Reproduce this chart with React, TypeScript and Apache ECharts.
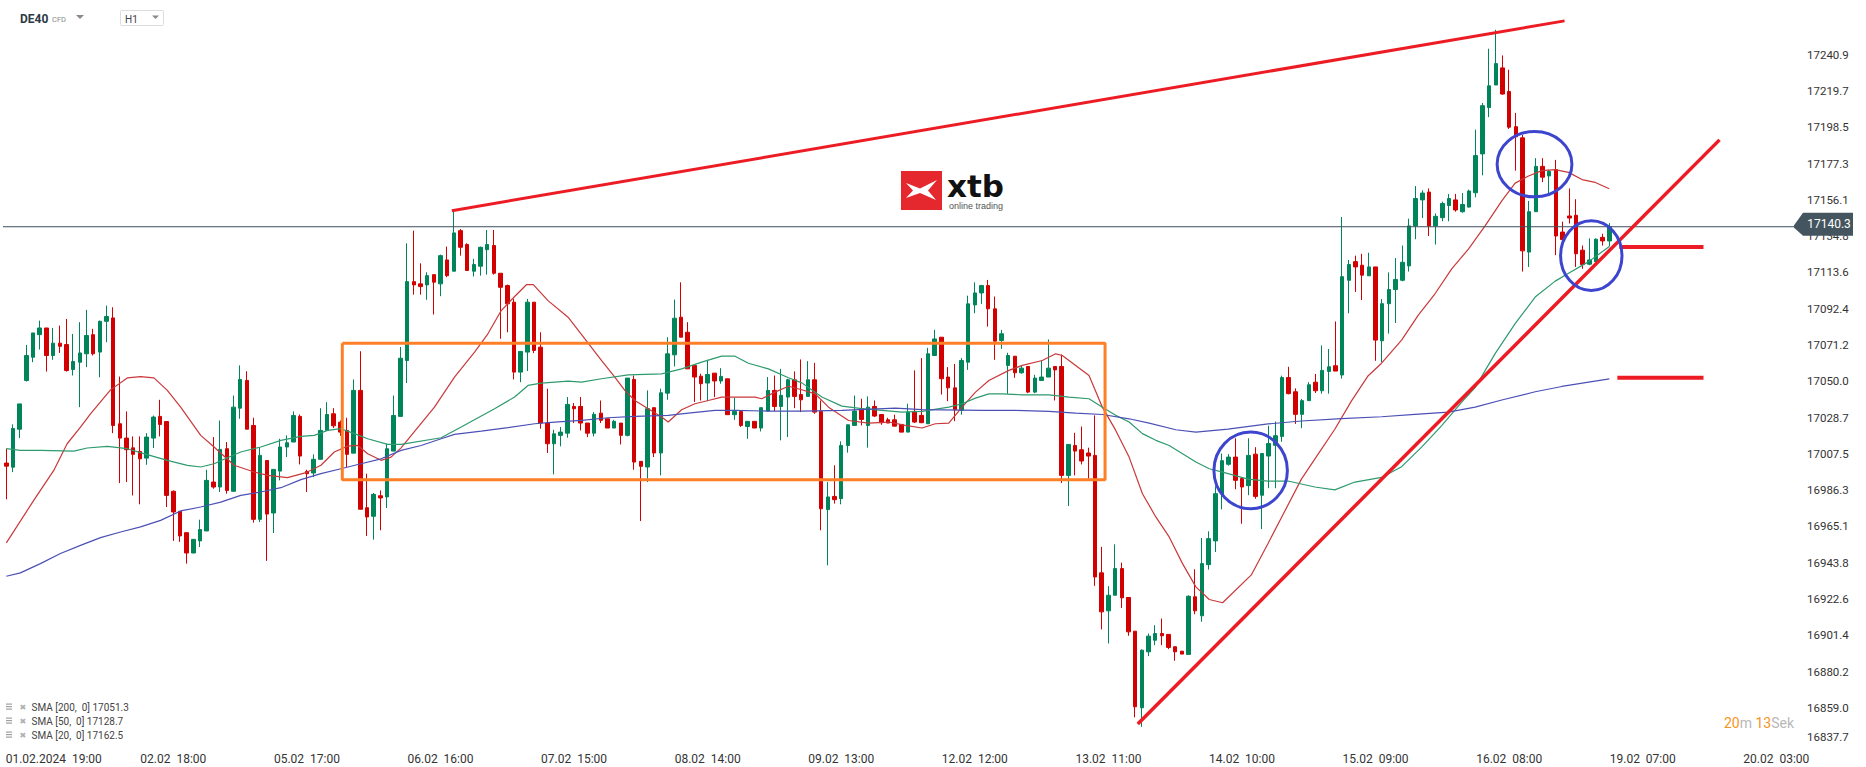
import React, { useEffect, useRef } from 'react';
import * as echarts from 'echarts';

// ---------- axes ----------
const SLOT_COUNT = 268;
const categories = Array.from({ length: SLOT_COUNT }, (_, i) => `bar${i}`);

const xTickIndex = [5, 25, 45, 65, 85, 105, 125, 145, 165, 185, 205, 225, 245, 265];
const xTickLabels = [
  '01.02.2024  19:00', '02.02  18:00', '05.02  17:00', '06.02  16:00', '07.02  15:00',
  '08.02  14:00', '09.02  13:00', '12.02  12:00', '13.02  11:00', '14.02  10:00',
  '15.02  09:00', '16.02  08:00', '19.02  07:00', '20.02  03:00',
];

const yTickLabels = [
  '16837.7', '16859.0', '16880.2', '16901.4', '16922.6', '16943.8', '16965.1', '16986.3',
  '17007.5', '17028.7', '17050.0', '17071.2', '17092.4', '17113.6', '17134.8', '17156.1',
  '17177.3', '17198.5', '17219.7', '17240.9',
];
const Y_MIN = 16837.7;
const Y_MAX = 17272.9;
const Y_INTERVAL = (17240.9 - 16837.7) / 19;

// ---------- candles: [open, close, low, high] ----------
const candles: number[][] = [
  [17002.1, 17000.3, 16980.9, 17010.5], [16999.7, 17022.3, 16996.8, 17024.7], [17021.9, 17036.7, 17016.7, 17036.7],
  [17050.4, 17065.0, 17049.8, 17071.2], [17064.0, 17078.2, 17061.1, 17078.2], [17077.2, 17081.1, 17068.5, 17085.4],
  [17081.1, 17065.0, 17055.6, 17081.1], [17065.0, 17072.2, 17062.5, 17081.1], [17072.2, 17070.4, 17066.5, 17082.5],
  [17071.4, 17056.2, 17055.6, 17086.4], [17056.8, 17061.5, 17053.3, 17077.6], [17061.1, 17066.5, 17034.8, 17084.5],
  [17066.0, 17076.7, 17058.2, 17091.7], [17077.2, 17066.0, 17065.0, 17080.6], [17067.0, 17085.0, 17052.3, 17085.4],
  [17085.0, 17087.8, 17072.8, 17094.2], [17087.0, 17024.1, 17019.6, 17093.2], [17025.1, 17016.7, 16990.4, 17052.7],
  [17016.7, 17009.9, 16991.0, 17032.3], [17011.0, 17007.2, 16983.2, 17017.7], [17008.9, 17004.6, 16978.0, 17017.7],
  [17005.0, 17017.3, 17001.1, 17019.6], [17016.7, 17029.0, 17010.9, 17029.9], [17029.4, 17024.7, 17017.7, 17039.1],
  [17026.4, 16983.2, 16976.4, 17026.4], [16985.6, 16973.5, 16956.6, 16986.1], [16973.9, 16959.5, 16956.0, 16973.9],
  [16961.4, 16949.5, 16943.3, 16961.4], [16949.5, 16957.5, 16949.5, 16957.5], [16956.6, 16963.2, 16953.0, 16969.0],
  [16962.4, 16992.0, 16962.4, 16998.2], [16991.0, 16988.1, 16987.1, 17017.3], [16988.1, 17010.1, 16985.2, 17027.0],
  [17010.5, 16986.1, 16984.2, 17014.4], [16985.6, 17034.8, 16985.6, 17041.6], [17034.2, 17051.0, 17028.0, 17059.2],
  [17050.4, 17021.9, 17021.9, 17055.8], [17024.1, 16969.2, 16967.3, 17028.6], [16969.2, 17006.6, 16967.6, 17011.5],
  [17003.6, 16972.3, 16944.9, 17003.6], [16972.9, 16998.4, 16961.2, 16998.4], [16997.4, 17011.5, 16992.0, 17016.3],
  [17011.5, 17014.0, 17005.6, 17018.3], [17014.4, 17029.9, 17014.4, 17032.3], [17029.4, 17006.2, 17001.3, 17030.5],
  [16997.2, 16995.9, 16985.2, 16998.2], [16996.3, 17004.3, 16993.9, 17007.2], [17004.3, 17021.2, 17004.3, 17034.2],
  [17021.2, 17030.5, 17021.2, 17037.7], [17030.9, 17023.9, 17022.6, 17034.2], [17026.0, 17020.2, 17018.0, 17027.0],
  [17021.2, 17007.2, 16999.8, 17028.6], [17007.9, 17044.6, 17007.9, 17051.0], [17044.6, 16975.1, 16975.1, 17067.5],
  [16976.0, 16970.6, 16959.5, 16995.9], [16971.0, 16983.8, 16957.3, 16984.6], [16983.0, 16981.7, 16962.8, 16986.1],
  [16982.3, 17010.5, 16975.8, 17013.4], [17009.1, 17029.9, 17009.1, 17041.6], [17029.4, 17063.4, 17029.4, 17070.0],
  [17062.1, 17108.2, 17048.9, 17130.6], [17108.2, 17106.3, 17100.6, 17138.0], [17106.9, 17105.3, 17100.6, 17118.9],
  [17106.3, 17111.7, 17097.6, 17113.7], [17112.3, 17107.9, 17089.0, 17112.3], [17106.9, 17123.4, 17099.7, 17124.0],
  [17120.9, 17111.7, 17110.8, 17128.7], [17114.3, 17136.7, 17114.3, 17149.7], [17138.0, 17128.3, 17123.4, 17139.0],
  [17129.9, 17114.7, 17114.7, 17130.6], [17114.3, 17118.2, 17111.2, 17121.5], [17117.2, 17128.3, 17111.7, 17128.7],
  [17126.9, 17129.9, 17112.3, 17138.4], [17129.3, 17113.1, 17112.3, 17138.4], [17113.1, 17104.9, 17074.8, 17113.1],
  [17105.9, 17095.2, 17078.6, 17106.5], [17096.2, 17055.3, 17051.0, 17098.1], [17055.3, 17067.4, 17049.4, 17067.4],
  [17067.0, 17096.2, 17055.9, 17098.1], [17096.2, 17068.0, 17066.4, 17096.2], [17069.9, 17025.5, 17022.2, 17078.6],
  [17025.5, 17013.4, 17008.0, 17045.6], [17013.4, 17019.2, 16995.5, 17021.6], [17018.3, 17020.2, 17011.9, 17023.2],
  [17019.6, 17036.4, 17016.9, 17040.7], [17035.2, 17033.9, 17025.5, 17037.2], [17035.2, 17025.5, 17021.2, 17040.7],
  [17025.5, 17019.6, 17017.3, 17025.5], [17019.6, 17030.6, 17017.7, 17031.9], [17031.3, 17027.1, 17025.5, 17038.7],
  [17028.0, 17022.6, 17022.6, 17028.0], [17022.6, 17026.5, 17022.6, 17027.4], [17025.5, 17018.3, 17013.0, 17025.5],
  [17018.3, 17051.8, 17017.7, 17051.8], [17051.0, 17002.7, 16998.2, 17053.3], [17003.1, 17000.2, 16968.2, 17003.1],
  [16999.8, 17033.9, 16991.0, 17044.6], [17034.5, 17008.0, 17005.6, 17034.5], [17008.0, 17043.2, 16994.9, 17045.6],
  [17043.0, 17066.0, 17039.1, 17075.7], [17065.4, 17086.8, 17058.6, 17097.7], [17087.4, 17075.7, 17075.7, 17107.8],
  [17078.6, 17057.2, 17057.2, 17084.5], [17059.2, 17052.4, 17037.8, 17059.2], [17052.9, 17048.5, 17038.7, 17054.3],
  [17048.9, 17053.9, 17038.3, 17062.5], [17054.7, 17050.1, 17040.7, 17054.7], [17050.1, 17052.8, 17048.5, 17057.6],
  [17051.4, 17030.4, 17030.4, 17051.4], [17030.4, 17032.3, 17027.4, 17040.3], [17032.3, 17024.1, 17023.2, 17032.3],
  [17023.5, 17026.5, 17016.3, 17026.5], [17026.5, 17022.6, 17022.6, 17026.5], [17022.6, 17034.5, 17020.6, 17034.5],
  [17032.5, 17044.6, 17032.5, 17052.4], [17044.6, 17035.2, 17032.5, 17053.3], [17035.2, 17041.7, 17015.4, 17057.2],
  [17040.7, 17050.8, 17017.3, 17051.4], [17050.8, 17041.1, 17034.2, 17055.7], [17042.2, 17039.1, 17031.9, 17062.7],
  [17041.1, 17050.8, 17041.1, 17061.7], [17050.8, 17031.9, 17030.9, 17060.7], [17032.3, 16975.4, 16962.8, 17038.7],
  [16974.9, 16982.3, 16942.3, 16991.0], [16982.6, 16980.7, 16978.4, 17000.8], [16981.3, 17012.4, 16978.0, 17014.8],
  [17012.4, 17024.5, 17008.2, 17024.5], [17024.1, 17032.5, 17024.1, 17041.6], [17033.9, 17027.6, 17024.1, 17039.7],
  [17024.1, 17034.8, 17011.1, 17041.1], [17035.2, 17029.6, 17029.0, 17038.7], [17030.5, 17025.7, 17024.5, 17030.5],
  [17027.4, 17025.5, 17025.5, 17028.6], [17027.4, 17023.7, 17023.7, 17030.4], [17024.7, 17020.2, 17020.2, 17024.7],
  [17020.2, 17031.9, 17020.2, 17036.8], [17032.3, 17026.1, 17025.5, 17056.3], [17030.0, 17025.7, 17025.5, 17063.5],
  [17025.1, 17066.0, 17025.1, 17069.5], [17065.0, 17074.7, 17065.0, 17080.0], [17075.7, 17051.4, 17042.2, 17075.7],
  [17052.4, 17046.1, 17038.3, 17058.2], [17046.1, 17033.3, 17026.6, 17060.1], [17032.9, 17062.1, 17030.4, 17063.5],
  [17061.1, 17095.2, 17056.6, 17100.0], [17094.6, 17101.6, 17089.7, 17107.8], [17101.6, 17105.9, 17095.2, 17106.3],
  [17105.9, 17092.3, 17081.9, 17109.2], [17092.3, 17073.4, 17062.5, 17099.5], [17073.8, 17077.7, 17068.9, 17080.0],
  [17059.2, 17065.0, 17042.6, 17066.6], [17064.6, 17054.9, 17052.0, 17064.6], [17054.9, 17057.6, 17054.3, 17059.2],
  [17058.6, 17043.6, 17043.0, 17058.6], [17043.6, 17051.8, 17043.0, 17053.7], [17050.4, 17052.4, 17050.4, 17062.1],
  [17052.4, 17057.6, 17052.4, 17074.4], [17058.6, 17056.6, 17038.7, 17058.6], [17058.6, 16994.9, 16990.4, 17065.6],
  [16994.9, 17013.0, 16977.0, 17013.0], [17012.4, 17009.1, 16994.9, 17019.8], [17009.9, 17003.3, 17001.3, 17023.5],
  [17008.0, 17006.2, 16993.0, 17011.1], [17006.6, 16935.5, 16930.3, 17030.0], [16937.9, 16915.1, 16904.8, 16953.1],
  [16915.7, 16924.8, 16896.6, 16930.1], [16924.8, 16940.4, 16924.8, 16954.6], [16940.4, 16923.3, 16917.4, 16943.9],
  [16923.5, 16903.4, 16901.1, 16923.5], [16903.8, 16859.6, 16853.4, 16903.8], [16859.0, 16892.7, 16847.9, 16893.1],
  [16891.7, 16900.9, 16889.2, 16902.4], [16898.5, 16902.4, 16895.6, 16907.3], [16902.4, 16901.1, 16895.6, 16911.2],
  [16901.9, 16894.3, 16893.3, 16901.9], [16894.7, 16891.7, 16886.5, 16894.7], [16892.1, 16890.4, 16890.4, 16892.1],
  [16890.2, 16924.2, 16890.2, 16924.8], [16923.9, 16915.7, 16913.7, 16940.0], [16912.8, 16943.3, 16909.3, 16958.3],
  [16942.7, 16957.9, 16939.8, 16962.2], [16956.6, 16984.2, 16950.1, 16988.5], [16984.0, 17003.5, 16975.0, 17007.7],
  [17001.4, 17005.6, 17000.6, 17007.3], [17005.6, 16992.0, 16986.8, 17016.6], [16993.1, 16988.1, 16966.6, 16993.1],
  [16988.9, 17006.6, 16983.3, 17016.6], [17007.3, 16982.6, 16981.2, 17011.4], [16983.3, 17007.7, 16963.5, 17007.7],
  [17006.2, 17013.5, 16987.4, 17023.9], [17012.5, 17018.1, 16987.4, 17026.4], [17017.7, 17052.1, 17014.6, 17053.2],
  [17052.1, 17042.7, 17042.3, 17058.4], [17043.8, 17030.6, 17025.0, 17045.8], [17030.6, 17038.6, 17022.5, 17039.6],
  [17038.6, 17047.9, 17038.6, 17049.4], [17049.4, 17044.4, 17043.1, 17054.2], [17044.4, 17056.3, 17042.7, 17070.9],
  [17055.7, 17058.4, 17042.7, 17068.8], [17059.0, 17055.9, 17055.9, 17084.9], [17053.6, 17111.1, 17051.5, 17146.0],
  [17109.0, 17118.2, 17089.7, 17120.9], [17119.9, 17116.8, 17102.2, 17123.4], [17117.8, 17112.0, 17097.4, 17124.5],
  [17111.6, 17116.8, 17111.6, 17125.1], [17116.8, 17074.0, 17061.9, 17116.8], [17073.6, 17095.3, 17061.1, 17098.0],
  [17095.3, 17103.6, 17077.8, 17113.6], [17103.6, 17109.5, 17084.0, 17122.0], [17109.0, 17119.5, 17108.4, 17129.3],
  [17117.4, 17140.8, 17114.1, 17145.0], [17140.8, 17156.8, 17133.0, 17164.1], [17156.0, 17160.0, 17145.4, 17161.6],
  [17160.6, 17140.8, 17134.9, 17162.7], [17140.8, 17146.4, 17129.9, 17148.1], [17145.6, 17153.9, 17143.5, 17155.0],
  [17152.7, 17156.8, 17143.5, 17159.5], [17156.0, 17150.1, 17149.1, 17159.5], [17149.1, 17153.3, 17148.5, 17160.0],
  [17151.8, 17161.2, 17151.6, 17162.0], [17160.2, 17181.9, 17157.5, 17197.1], [17182.9, 17211.1, 17170.4, 17212.7],
  [17210.0, 17222.7, 17204.4, 17244.4], [17223.2, 17235.7, 17223.2, 17255.5], [17233.2, 17217.9, 17217.5, 17240.5],
  [17219.4, 17198.5, 17197.5, 17232.1], [17198.8, 17192.9, 17173.1, 17206.9], [17192.3, 17126.2, 17114.1, 17194.0],
  [17125.5, 17149.1, 17116.8, 17155.4], [17149.1, 17175.6, 17149.1, 17180.4], [17175.6, 17169.3, 17166.4, 17180.4],
  [17170.0, 17172.7, 17159.5, 17173.7], [17173.7, 17134.9, 17123.7, 17179.4], [17137.2, 17132.8, 17132.0, 17143.3],
  [17146.6, 17145.4, 17142.2, 17162.7], [17147.0, 17124.5, 17116.8, 17156.4], [17126.6, 17118.2, 17115.7, 17129.3],
  [17118.4, 17120.9, 17117.8, 17133.5], [17119.9, 17133.0, 17119.5, 17133.5], [17134.1, 17132.0, 17129.3, 17136.2],
  [17132.0, 17140.3, 17128.7, 17142.4],
];

// ---------- moving averages: [bar position, value] ----------
const sma20: number[][] = [
  [0, 16955.4], [4.1, 16980.3], [7.1, 16997.8], [9.1, 17013.4], [11.1, 17023.1], [12.6, 17030.9], [15.6, 17044.9],
  [18.1, 17051.9], [20.1, 17052.7], [22.1, 17051.9], [24.1, 17044.6], [26.1, 17034.8], [29.1, 17018.3], [31.1, 17011.5],
  [34.1, 17000.8], [37.1, 16996.9], [39.1, 16994.9], [42.1, 16993.6], [45, 16996.7], [47.1, 17000.8], [49.1, 17008.6],
  [51.1, 17012.0], [52.6, 17012.4], [54.1, 17007.6], [56.1, 17003.7], [57.6, 17005.6], [59.1, 17011.0], [64.1, 17034.8],
  [67.1, 17052.4], [70.1, 17067.0], [72.1, 17077.7], [74.1, 17091.3], [76.1, 17099.5], [77.9, 17106.5], [78.9, 17106.5],
  [81.1, 17097.1], [84.1, 17087.4], [86.1, 17077.3], [89.1, 17062.1], [91.1, 17052.4], [92.6, 17044.6], [94.1, 17038.7],
  [96.1, 17033.9], [98.1, 17029.0], [99.1, 17026.1], [101.1, 17033.3], [103.1, 17036.8], [105.1, 17038.7], [107.1, 17040.7],
  [109.1, 17040.7], [112.1, 17040.7], [113.1, 17039.7], [115.1, 17043.6], [117.1, 17047.0], [119.1, 17045.0], [121.1, 17042.6],
  [123.1, 17034.8], [126.1, 17027.0], [129.1, 17025.5], [132.1, 17026.1], [134.6, 17024.1], [137.1, 17022.6], [139.1, 17025.1],
  [141.1, 17025.5], [143.1, 17034.8], [145.1, 17043.6], [147.1, 17050.4], [150.1, 17056.3], [152.1, 17059.2], [155.1, 17062.1],
  [157.1, 17066.0], [158.1, 17065.0], [160.1, 17059.2], [162.1, 17053.3], [164.1, 17034.8], [166.1, 17021.2], [168.1, 17005.6],
  [170.1, 16984.2], [172.1, 16970.6], [174.1, 16958.9], [176.1, 16943.3], [178.1, 16929.7], [180.1, 16922.3], [182.1, 16920.4],
  [186.4, 16936.7], [188.9, 16955.1], [191.4, 16973.9], [193.9, 16992.7], [196.4, 17007.3], [198.9, 17021.9], [201.4, 17038.5],
  [203.9, 17053.2], [205.9, 17060.5], [208.9, 17074.0], [211.4, 17088.6], [213.9, 17101.1], [216.4, 17115.7], [218.9, 17127.2],
  [221.4, 17140.8], [223.9, 17155.4], [225.9, 17165.8], [227.9, 17170.0], [229.9, 17173.1], [231.9, 17173.7], [233.9, 17172.1],
  [235.9, 17167.9], [237.9, 17166.2], [240, 17162.5],
];
const sma50: number[][] = [
  [0, 17010.5], [2.1, 17009.5], [5.1, 17009.5], [10.1, 17009.1], [12.1, 17010.9], [15.1, 17011.9], [18.1, 17010.5],
  [21.1, 17007.0], [24.1, 17003.7], [27.1, 17000.8], [29.1, 16999.8], [31.1, 17001.7], [33.1, 17005.2], [35.1, 17008.6],
  [38.1, 17011.5], [41.1, 17015.4], [44.1, 17017.7], [46.1, 17018.3], [48.1, 17021.2], [50.1, 17022.2], [52.1, 17019.3],
  [54.1, 17016.3], [57.1, 17013.0], [59.1, 17013.0], [65.1, 17016.9], [68.1, 17023.2], [73.1, 17033.9], [76.1, 17040.7],
  [78.1, 17047.5], [80.1, 17048.9], [84.1, 17050.0], [86.1, 17049.4], [89.1, 17051.4], [93.1, 17053.7], [98.1, 17054.3],
  [101.1, 17057.2], [104.1, 17061.1], [107.1, 17064.6], [109.1, 17064.6], [111.1, 17060.5], [114.1, 17057.2], [117.1, 17052.0],
  [119.1, 17049.0], [122.1, 17040.7], [125.1, 17035.4], [128.1, 17033.9], [131.1, 17032.9], [134.1, 17031.9], [137.1, 17032.3],
  [141.1, 17034.8], [143.1, 17036.8], [145.1, 17040.1], [147.1, 17042.6], [149.1, 17042.6], [152.1, 17042.0], [156.1, 17042.0],
  [159.1, 17040.7], [162.1, 17039.7], [164.1, 17034.8], [166.1, 17030.0], [168.1, 17026.1], [170.1, 17019.3], [172.1, 17015.4],
  [174.1, 17012.4], [176.1, 17007.6], [178.1, 17002.7], [180.1, 16998.8], [182.1, 16996.8], [185.9, 16992.7], [188.9, 16991.6],
  [191.9, 16991.6], [195.9, 16988.1], [198.9, 16986.4], [201.9, 16991.0], [205.9, 16993.7], [208.9, 17000.0], [211.9, 17011.4],
  [214.9, 17024.0], [217.9, 17037.7], [219.9, 17046.2], [222.9, 17066.1], [225.9, 17083.6], [228.9, 17099.2], [231.9, 17108.5],
  [233.9, 17113.1], [236.9, 17119.9], [240, 17128.7],
];
const sma200: number[][] = [
  [0, 16935.9], [2.1, 16937.9], [5.1, 16943.3], [8.1, 16949.2], [11.1, 16954.0], [14.1, 16958.5], [17.1, 16961.8],
  [20.1, 16964.8], [23.1, 16968.6], [26.1, 16974.1], [29.1, 16976.4], [32.1, 16979.3], [35.1, 16983.2], [38.1, 16985.2],
  [41.1, 16987.7], [44.1, 16992.4], [47.1, 16995.9], [50.1, 16998.8], [53.1, 17001.7], [56.1, 17004.6], [59.1, 17009.5],
  [62.1, 17012.4], [65.1, 17016.3], [67.1, 17018.9], [71.1, 17020.8], [75.1, 17022.8], [79.1, 17025.1], [82.1, 17026.1],
  [86.1, 17027.1], [90.1, 17028.6], [94.1, 17029.4], [99.1, 17030.0], [102.1, 17031.3], [106.1, 17032.9], [109.1, 17032.9],
  [114.1, 17032.5], [119.1, 17032.5], [125.1, 17032.9], [133.1, 17034.2], [137.1, 17033.3], [146.1, 17032.9], [151.1, 17032.9],
  [156.1, 17032.3], [160.1, 17031.3], [164.1, 17030.5], [168.1, 17028.0], [171.1, 17025.5], [175.1, 17021.6], [178.1, 17020.2],
  [182.9, 17021.9], [188.9, 17025.0], [193.9, 17026.7], [199.9, 17028.1], [205.9, 17029.2], [210.9, 17030.6], [215.9, 17031.9],
  [219.9, 17034.8], [223.9, 17039.0], [228.9, 17043.8], [232.9, 17046.9], [236.9, 17049.4], [240, 17051.3],
];

// ---------- drawings ----------
const lastPrice = 17140.3;
const upperTrend: number[][] = [[66.7, 17149.7], [233.3, 17260.7]];
const lowerTrend: number[][] = [[169.4, 16849.5], [256.5, 17191.1]];
const rangeBox: number[][] = [[50.3, 17072.2], [164.5, 17072.2], [164.5, 16992.4], [50.3, 16992.4], [50.3, 17072.2]];
const levelHigh: number[][] = [[241.5, 17128.5], [254.1, 17128.5]];
const levelLow: number[][] = [[241.2, 17052.0], [254.1, 17052.0]];
const circles = [
  { x: 186.3, y: 16997.8, rx: 5.5, ry: 22.4 },
  { x: 228.8, y: 17176.9, rx: 5.6, ry: 19.1 },
  { x: 237.3, y: 17123.4, rx: 4.6, ry: 20.4 },
];
const legendRows = ['SMA [200,  0] 17051.3', 'SMA [50,  0] 17128.7', 'SMA [20,  0] 17162.5'];

const GREEN = '#00845a';
const RED = '#d20000';
const FONT = 'Roboto';

export default function App() {
  const ref = useRef<HTMLDivElement>(null);

  useEffect(() => {
    if (!ref.current) return;
    const chart = echarts.init(ref.current, null, { renderer: 'svg' });

    const lineSeries = (name: string, data: number[][], color: string, width: number, z = 3) => ({
      name,
      type: 'line',
      xAxisIndex: 1,
      yAxisIndex: 0,
      data,
      showSymbol: false,
      symbol: 'none',
      silent: true,
      z,
      lineStyle: { color, width },
    });

    const option: any = {
      animation: false,
      backgroundColor: '#ffffff',
      grid: { left: 3, right: 73, top: 0, bottom: 22.8 },
      xAxis: [
        {
          type: 'category',
          data: categories,
          boundaryGap: true,
          axisLine: { show: false },
          axisTick: { show: false },
          splitLine: { show: false },
          axisLabel: {
            interval: (index: number) => xTickIndex.includes(index),
            formatter: (_v: string, index: number) => {
              const k = xTickIndex.indexOf(index);
              if (k < 0) return '';
              return k === 0 ? `{first|${xTickLabels[k]}}` : xTickLabels[k];
            },
            color: '#333333',
            fontSize: 12,
            fontFamily: FONT,
            margin: 9,
            rich: { first: { padding: [0, 0, 0, 28], color: '#333333', fontSize: 12, fontFamily: FONT } },
          },
        },
        { type: 'value', min: -0.5, max: SLOT_COUNT - 0.5, show: false },
      ],
      yAxis: {
        type: 'value',
        position: 'right',
        min: Y_MIN,
        max: Y_MAX,
        interval: Y_INTERVAL,
        axisLine: { show: false },
        axisTick: { show: false },
        splitLine: { show: false },
        axisLabel: {
          color: '#333333',
          fontSize: 11.5,
          fontFamily: FONT,
          margin: 14,
          align: 'left',
          formatter: (v: number) => {
            const k = Math.round((v - Y_MIN) / Y_INTERVAL);
            if (k < 0 || k >= yTickLabels.length) return '';
            if (Math.abs(v - (Y_MIN + k * Y_INTERVAL)) > 0.5) return '';
            return k === 0 ? `{low|${yTickLabels[0]}}` : yTickLabels[k];
          },
          rich: { low: { padding: [0, 0, 14, 0], color: '#333333', fontSize: 11.5, fontFamily: FONT } },
        },
      },
      series: [
        {
          type: 'candlestick',
          xAxisIndex: 0,
          yAxisIndex: 0,
          data: candles,
          barWidth: 4,
          z: 2,
          itemStyle: { color: GREEN, color0: RED, borderColor: GREEN, borderColor0: RED, borderWidth: 1 },
        },
        lineSeries('SMA20', sma20, '#c9383a', 1.2),
        lineSeries('SMA50', sma50, '#2e9a6e', 1.2),
        lineSeries('SMA200', sma200, '#4b50b5', 1.2),
        lineSeries('price', [[-0.5, lastPrice], [SLOT_COUNT - 0.5, lastPrice]], '#3e4f5c', 1, 4),
        lineSeries('range', rangeBox, '#ff7f27', 3, 5),
        lineSeries('upper', upperTrend, '#ed1c24', 3, 5),
        lineSeries('lower', lowerTrend, '#ed1c24', 3.5, 5),
        lineSeries('levelHigh', levelHigh, '#ed1c24', 4, 5),
        lineSeries('levelLow', levelLow, '#ed1c24', 4, 5),
      ],
    };
    chart.setOption(option);

    const toPx = (x: number, y: number) => chart.convertToPixel({ seriesIndex: 1 }, [x, y]) as number[];

    const graphics: any[] = [];
    // ellipses
    circles.forEach((c) => {
      const p0 = toPx(c.x, c.y);
      const p1 = toPx(c.x + c.rx, c.y + c.ry);
      graphics.push({
        type: 'ellipse',
        z: 50,
        silent: true,
        shape: { cx: p0[0], cy: p0[1], rx: Math.abs(p1[0] - p0[0]), ry: Math.abs(p1[1] - p0[1]) },
        style: { fill: 'none', stroke: '#3d45cf', lineWidth: 3 },
      });
    });
    // price tag
    const pEnd = toPx(SLOT_COUNT - 0.5, lastPrice);
    const gx = pEnd[0];
    const py = pEnd[1];
    graphics.push({
      type: 'polygon',
      z: 60,
      shape: { points: [[gx, py], [gx + 10, py - 14], [gx + 60, py - 14], [gx + 60, py + 9], [gx + 10, py + 9]] },
      style: { fill: '#45555f' },
    });
    graphics.push({
      type: 'text',
      z: 61,
      style: { x: gx + 36, y: py - 2.5, text: lastPrice.toFixed(1), fill: '#ffffff', font: `12px ${FONT}`, textAlign: 'center', textVerticalAlign: 'middle' },
    });

    // header
    graphics.push(
      { type: 'text', z: 60, style: { x: 20, y: 19, text: 'DE40', fill: '#2d3a44', font: `bold 12px ${FONT}`, textVerticalAlign: 'middle' } },
      { type: 'text', z: 60, style: { x: 52, y: 19.5, text: 'CFD', fill: '#888888', font: `7.5px ${FONT}`, textVerticalAlign: 'middle' } },
      { type: 'polygon', z: 60, shape: { points: [[76, 15], [84, 15], [80, 19]] }, style: { fill: '#8a8a8a' } },
      { type: 'rect', z: 60, shape: { x: 120.5, y: 10.5, width: 43, height: 15, r: 1 }, style: { fill: '#ffffff', stroke: '#dddddd', lineWidth: 1 } },
      { type: 'text', z: 61, style: { x: 125, y: 19, text: 'H1', fill: '#444444', font: `10px ${FONT}`, textVerticalAlign: 'middle' } },
      { type: 'polygon', z: 61, shape: { points: [[152, 15.5], [159, 15.5], [155.5, 19]] }, style: { fill: '#8a8a8a' } },
    );

    // logo
    graphics.push(
      { type: 'rect', z: 40, shape: { x: 901, y: 171, width: 41, height: 39 }, style: { fill: '#e4282e' } },
      {
        type: 'polygon',
        z: 41,
        shape: { points: [[906, 183], [920, 188.5], [937, 180], [928, 190.5], [936, 200], [920, 193], [906, 198], [913, 190.5]] },
        style: { fill: '#ffffff' },
      },
      { type: 'text', z: 41, style: { x: 947, y: 186, text: 'xtb', fill: '#111111', font: `bold 31px 'DejaVu Sans'`, textVerticalAlign: 'middle' } },
      { type: 'text', z: 41, style: { x: 949, y: 205.5, text: 'online trading', fill: '#555555', font: `9px 'Liberation Sans'`, textVerticalAlign: 'middle' } },
    );

    // SMA legend
    legendRows.forEach((t, i) => {
      const y = 707 + i * 14;
      graphics.push(
        { type: 'rect', z: 60, shape: { x: 6, y: y - 3.5, width: 6, height: 1.2 }, style: { fill: '#a0a0a0' } },
        { type: 'rect', z: 60, shape: { x: 6, y: y - 1, width: 6, height: 1.2 }, style: { fill: '#a0a0a0' } },
        { type: 'rect', z: 60, shape: { x: 6, y: y + 1.5, width: 6, height: 1.2 }, style: { fill: '#a0a0a0' } },
        { type: 'text', z: 60, style: { x: 19.5, y, text: '✖', fill: '#b0b0b0', font: `8px 'DejaVu Sans'`, textVerticalAlign: 'middle' } },
        { type: 'text', z: 60, style: { x: 31.5, y, text: t, fill: '#444444', font: `10px ${FONT}`, textVerticalAlign: 'middle' } },
      );
    });

    // countdown
    graphics.push({
      type: 'text',
      z: 60,
      style: {
        x: 1724,
        y: 722.5,
        text: '{o|20}{g|m }{o|13}{g|Sek}',
        textVerticalAlign: 'middle',
        rich: {
          o: { fill: '#f7941d', font: `14px ${FONT}` },
          g: { fill: '#b8b8b8', font: `14px ${FONT}` },
        },
      },
    });

    chart.setOption({ graphic: graphics });

    return () => chart.dispose();
  }, []);

  return (
    <div
      ref={ref}
      style={{ position: 'fixed', left: 0, top: 0, width: 1866, height: 767, background: '#ffffff' }}
    />
  );
}
